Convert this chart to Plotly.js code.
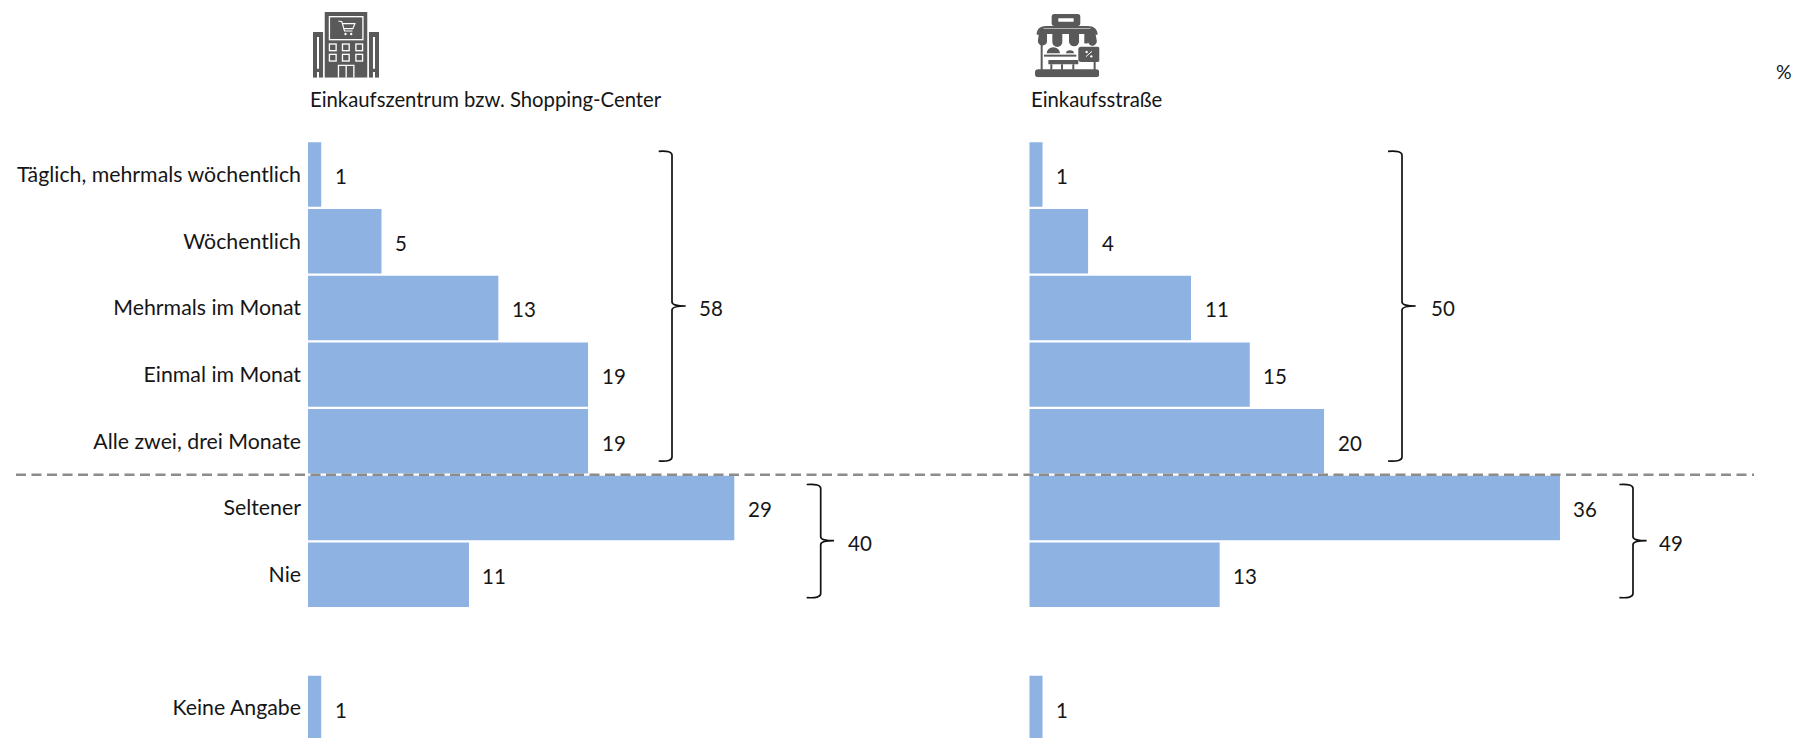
<!DOCTYPE html>
<html><head><meta charset="utf-8">
<script src="https://cdn.plot.ly/plotly-3.0.1.min.js"></script>
<style>html,body{margin:0;padding:0;background:#fff;overflow:hidden}</style>
</head><body><div id="chart" style="width:1794px;height:738px"></div>
<script>
// ---- data ----
const categories = ["Täglich, mehrmals wöchentlich","Wöchentlich","Mehrmals im Monat","Einmal im Monat","Alle zwei, drei Monate","Seltener","Nie"," ","Keine Angabe"];
const mallBars   = [0.9,5,12.95,19.05,19.05,29,10.95,null,0.9];
const streetBars = [0.9,4,11,15,20.05,36.1,12.95,null,0.9];
const mallLabels   = ["1","5","13","19","19","29","11","","1"];
const streetLabels = ["1","4","11","15","20","36","13","","1"];
const panelTitles = ["Einkaufszentrum bzw. Shopping-Center","Einkaufsstraße"];
const mallGroups   = ["58","40"];
const streetGroups = ["50","49"];
const unitLabel = "%";

// ---- page geometry ----
const W=1794,H=738, FONT="Lato, Carlito, sans-serif", TXT="#161616", BAR="#8eb3e3", ICON="#595959";
const SIZE=21.3, DIGIT_SIZE=20.5, TITLE_SIZE=20.3;
const px=v=>v/W, py=v=>1-v/H;
const PXPER=14.7, AX_UNITS=40, X1=308, X2=1029.3, PLOT_TOP=141.25;

const common={type:'bar',orientation:'h',y:categories,marker:{color:BAR,line:{width:0}},hoverinfo:'skip',showlegend:false,cliponaxis:true};
const data=[
 Object.assign({x:mallBars,xaxis:'x',yaxis:'y'},common),
 Object.assign({x:streetBars,xaxis:'x2',yaxis:'y2'},common)
];

function brace(xv,hook,tip,top,mid,bot){
 const r=4;
 return {type:'path',xref:'paper',yref:'paper',line:{color:'#111',width:1.7},
  path:`M${px(hook)},${py(top)} Q${px(xv)},${py(top-1)} ${px(xv)},${py(top+r)} L${px(xv)},${py(mid-r)} Q${px(xv)},${py(mid)} ${px(tip)},${py(mid)} Q${px(xv)},${py(mid)} ${px(xv)},${py(mid+r)} L${px(xv)},${py(bot-r)} Q${px(xv)},${py(bot+1)} ${px(hook)},${py(bot)}`};
}
const shapes=[
 {type:'line',xref:'paper',yref:'paper',x0:px(16),x1:px(1754),y0:py(474.7),y1:py(474.7),line:{color:'#8c8c8c',width:2.4,dash:'10px,5.5px'}},
 brace(672,658.7,685.7,151.3,306,461),
 brace(820.7,806.7,834,484.5,540.7,597.6),
 brace(1402,1388,1415.7,151.3,306,461),
 brace(1633,1619.4,1646.6,484.5,540.7,597.6)
];

const annotations=[];
function txt(t,x,y,size){annotations.push({text:t,xref:'paper',yref:'paper',x:px(x),y:py(y),xanchor:'left',yanchor:'middle',showarrow:false,borderpad:0,borderwidth:0,font:{family:FONT,size:size||DIGIT_SIZE,color:TXT}});}
function valueLabels(labels,vals,xa,ya){
 labels.forEach((t,i)=>{ if(!t) return;
  annotations.push({text:t,xref:xa,yref:ya,x:vals[i],y:categories[i],xanchor:'left',yanchor:'middle',xshift:13.5,yshift:-1.5,showarrow:false,borderpad:0,borderwidth:0,font:{family:FONT,size:DIGIT_SIZE,color:TXT}});
 });
}
valueLabels(mallLabels,mallBars,'x','y');
valueLabels(streetLabels,streetBars,'x2','y2');
txt(panelTitles[0],310,99.5,TITLE_SIZE);
txt(panelTitles[1],1031,99.5,TITLE_SIZE);
txt(mallGroups[0],699,308);
txt(mallGroups[1],847.5,542.5);
txt(streetGroups[0],1430.5,308);
txt(streetGroups[1],1659,542.5);
txt(unitLabel,1776,72,19.5);

// ---- icons ----
const buildingSvg=`<svg xmlns="http://www.w3.org/2000/svg" viewBox="0 0 197 197"><g fill="${ICON}"><rect x="35" width="127" height="197"/><path d="M0 60h30v137H18v-17h-6v17H0zM12 75v95h6V75z" fill-rule="evenodd"/><path d="M167 60h30v137h-12v-17h-6v17h-12zM179 75v95h6V75z" fill-rule="evenodd"/></g><g fill="none" stroke="#fff" stroke-width="4"><rect x="49" y="14" width="100" height="69"/><rect x="49" y="96" width="20" height="20"/><rect x="88" y="96" width="20" height="20"/><rect x="128" y="96" width="20" height="20"/><rect x="49" y="127" width="20" height="20"/><rect x="88" y="127" width="20" height="20"/><rect x="128" y="127" width="20" height="20"/><path d="M76 197v-37h46v37M99 160v37"/><path d="M76 27l10 2 8 28h24M88 35h37l-6 15H92" stroke-width="3.5"/></g><g fill="#fff"><circle cx="97" cy="66" r="3.5"/><circle cx="114" cy="66" r="3.5"/></g></svg>`;
const shopSvg=`<svg xmlns="http://www.w3.org/2000/svg" viewBox="0 0 193 190"><g fill="${ICON}"><path fill-rule="evenodd" d="M58 0h70a8 8 0 0 1 8 8v20a8 8 0 0 1-8 8H58a8 8 0 0 1-8-8V8a8 8 0 0 1 8-8zM70 13v10h46V13z"/><path d="M5 62c0-18 12-26 28-26h125c18 0 30 10 30 26h-7c0-12-8-19-23-19H33c-12 0-21 7-21 19z"/><path d="M14 44h165l6 34a13 13 0 0 1-25 8 13 13 0 0 1-12 2V60h-16v20a15 15 0 0 1-30 4V60H82v24a15 15 0 0 1-30 0V60H36v24a13 13 0 0 1-27-6z"/><rect x="0" y="166" width="193" height="24" rx="10"/><rect x="17" y="88" width="6" height="80"/><rect x="176" y="138" width="6" height="30"/><path d="M35 118a20 18 0 0 1 40 0zM93 118a12 9 0 0 1 24 0z"/><rect x="27" y="122" width="97" height="6"/><rect x="40" y="138" width="90" height="13" rx="2"/><path d="M46 151h6v16h-6zM78 151h6v16h-6zM112 151h6v16h-6z"/><rect x="130" y="98" width="65" height="46" rx="8"/></g><path d="M153 128l18-16" stroke="#fff" stroke-width="3"/><circle cx="155" cy="114" r="3.5" fill="#fff"/><circle cx="169" cy="127" r="3.5" fill="#fff"/></svg>`;
const uri=s=>'data:image/svg+xml;charset=utf-8,'+encodeURIComponent(s);
const images=[
 {source:uri(buildingSvg),xref:'paper',yref:'paper',x:px(313),y:py(12),sizex:66/W,sizey:65.7/H,xanchor:'left',yanchor:'top',sizing:'stretch',layer:'above'},
 {source:uri(shopSvg),xref:'paper',yref:'paper',x:px(1035),y:py(14),sizex:64.3/W,sizey:63.3/H,xanchor:'left',yanchor:'top',sizing:'stretch',layer:'above'}
];

const yDomain=[0,1-PLOT_TOP/H];
const yRange=[8.45,-0.5];
const layout={
 width:W,height:H,margin:{l:0,r:0,t:0,b:0,pad:0},paper_bgcolor:'#fff',plot_bgcolor:'rgba(0,0,0,0)',
 barmode:'overlay',bargap:0.033,
 font:{family:FONT,size:SIZE,color:TXT},
 xaxis:{domain:[px(X1),px(X1+PXPER*AX_UNITS)],range:[0,AX_UNITS],visible:false,fixedrange:true,anchor:'y'},
 xaxis2:{domain:[px(X2),px(X2+PXPER*AX_UNITS)],range:[0,AX_UNITS],visible:false,fixedrange:true,anchor:'y2'},
 yaxis:{domain:yDomain,type:'category',categoryorder:'array',categoryarray:categories,range:yRange,anchor:'x',
  tickmode:'array',tickvals:categories,ticktext:categories,showgrid:false,zeroline:false,showline:false,ticks:'',ticklabelstandoff:6,ticklabelshift:-3.5,automargin:false,fixedrange:true,
  tickfont:{family:FONT,size:SIZE,color:TXT}},
 yaxis2:{domain:yDomain,type:'category',categoryorder:'array',categoryarray:categories,range:yRange,anchor:'x2',showticklabels:false,showgrid:false,zeroline:false,showline:false,ticks:'',fixedrange:true},
 shapes,annotations,images
};
Plotly.newPlot('chart',data,layout,{displayModeBar:false,staticPlot:true});
</script></body></html>
